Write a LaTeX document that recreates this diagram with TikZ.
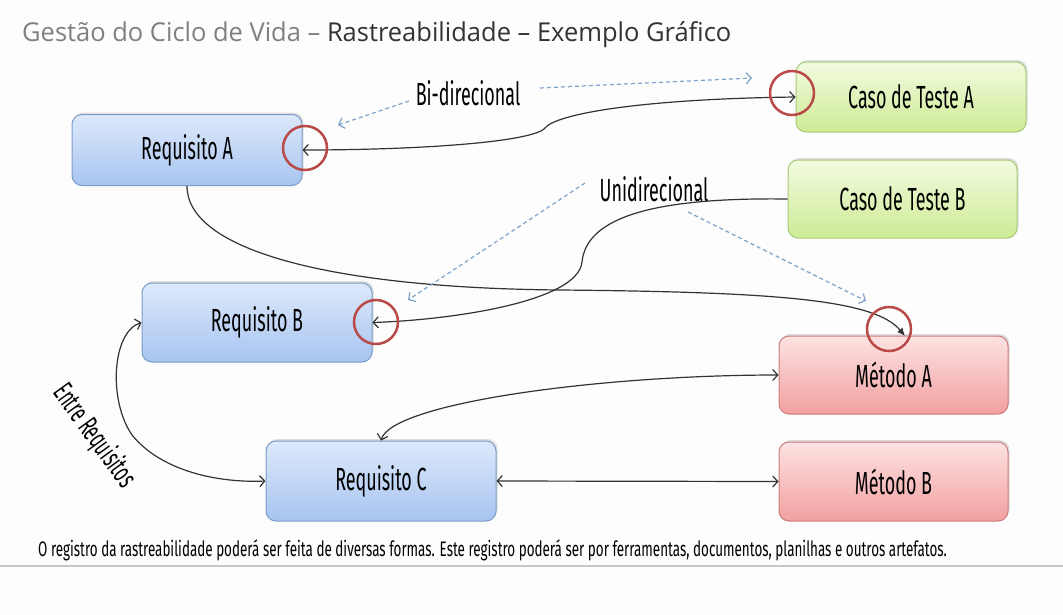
\documentclass[tikz,border=0pt]{standalone}
\usepackage{fontspec}
\usetikzlibrary{arrows.meta,shadows}
\newfontfamily\agency[FakeStretch=0.56]{Fira Sans}
\newfontfamily\footfont[FakeStretch=0.64]{Fira Sans}
\newfontfamily\titlefont[FakeStretch=0.98]{Open Sans}
\definecolor{bgc}{HTML}{FDFDFD}
\definecolor{bluetop}{HTML}{DDE9FB}
\definecolor{bluebot}{HTML}{A7C4F0}
\definecolor{blueline}{HTML}{7A9CC8}
\definecolor{greentop}{HTML}{F2FBE0}
\definecolor{greenbot}{HTML}{CDEB95}
\definecolor{greenline}{HTML}{A8C878}
\definecolor{redtop}{HTML}{FDE2E2}
\definecolor{redbot}{HTML}{F2A0A0}
\definecolor{redline}{HTML}{CC7B7B}
\definecolor{ringc}{HTML}{B94A48}
\definecolor{dashc}{HTML}{7EA3CC}
\definecolor{linec}{HTML}{333333}
\tikzset{
  box/.style={rounded corners=10pt, minimum width=230pt, line width=1pt,
    font=\agency\fontsize{32}{34}\selectfont, text=black,
    drop shadow={opacity=0.25, shadow xshift=1.5pt, shadow yshift=2pt}},
  reqbox/.style={box, draw=blueline, top color=bluetop, bottom color=bluebot, minimum height=75pt},
  testbox/.style={box, draw=greenline, top color=greentop, bottom color=greenbot, minimum height=74pt},
  metbox/.style={box, draw=redline, top color=redtop, bottom color=redbot, minimum height=79pt},
  link/.style={draw=linec, line width=1.2pt},
  barb/.tip={Straight Barb[length=5pt,width=11pt]},
  dasharrow/.style={draw=dashc, line width=1.2pt, dash pattern=on 4pt off 3pt, -{Straight Barb[length=5pt,width=11pt]}},
  ring/.style={draw=ringc, line width=2.5pt, circle, minimum size=44pt, inner sep=0pt},
  lbl/.style={font=\agency\fontsize{32}{34}\selectfont, text=black, inner sep=1pt}
}
\begin{document}
\begin{tikzpicture}[x=1pt,y=-1pt]
\fill[bgc] (0,0) rectangle (1063,614);
\useasboundingbox (0,0) rectangle (1063,614);
% title
\node[anchor=base west, inner sep=0pt, font=\titlefont\fontsize{26}{28}\selectfont] (title) at (22,41)
  {\textcolor{black!50}{Gestão do Ciclo de Vida –} \textcolor{black!80}{Rastreabilidade – Exemplo Gráfico}};
% boxes
\node[reqbox, minimum height=71pt] (ra) at (187,150) {Requisito A};
\node[testbox, minimum height=70pt] (cta) at (911,97) {Caso de Teste A};
\node[testbox, minimum width=229pt, minimum height=78pt] (ctb) at (902.5,199) {Caso de Teste B};
\node[reqbox, minimum height=79pt] (rb) at (257,322.5) {Requisito B};
\node[metbox, minimum width=229pt, minimum height=78pt] (ma) at (893.5,375) {Método A};
\node[reqbox, minimum height=80pt] (rc) at (381,481) {Requisito C};
\node[metbox, minimum width=229pt] (mb) at (893.5,481.5) {Método B};
% labels
\node[lbl] (bi) at (468,93) {Bi-direcional};
\node[lbl] (uni) at (654,189) {Unidirecional};
\node[lbl, rotate=-54, font=\agency\fontsize{29}{31}\selectfont] (entre) at (94,436) {Entre Requisitos};
% connectors
\draw[link, barb-barb] (ra.east) .. controls (420,150) and (533,142) .. (545,128)
  .. controls (556,114) and (640,99) .. (cta.west);
\draw[link, -barb] (ctb.west) .. controls (640,197) and (586,222) .. (582,262)
  .. controls (578,302) and (450,320) .. (rb.east);
\coordinate (matop) at (905,336);
\draw[link, -{Latex[length=8pt,width=7pt]}] (ra.south) .. controls (187,250) and (330,288) .. (560,290)
  .. controls (780,292) and (875,300) .. (matop);
\draw[link, barb-barb] (rb.west) .. controls (112,332) and (108,400) .. (132,435)
  .. controls (162,472) and (220,483) .. (rc.west);
\draw[link, barb-barb] (rc.north) .. controls (392,403) and (600,375) .. (ma.west);
\draw[link, barb-barb] (rc.east) -- (mb.west);
% dashed arrows
\coordinate (d1s) at (409,101);
\coordinate (d1e) at (338,125);
\coordinate (d2s) at (540,88);
\coordinate (d2e) at (752,78);
\coordinate (d3s) at (585,183);
\coordinate (d3e) at (408,300);
\coordinate (d4s) at (688,212);
\coordinate (d4e) at (866,301);
\draw[dasharrow] (d1s) -- (d1e);
\draw[dasharrow] (d2s) -- (d2e);
\draw[dasharrow] (d3s) -- (d3e);
\draw[dasharrow] (d4s) -- (d4e);
% red rings
\node[ring] (r1) at (305,148) {};
\node[ring] (r2) at (792,93) {};
\node[ring] (r3) at (376,322) {};
\node[ring] (r4) at (889,329) {};
% footer
\node[anchor=base west, inner sep=0pt, font=\footfont\fontsize{21}{23}\selectfont] (foot) at (38,556)
  {O registro da rastreabilidade poderá ser feita de diversas formas. Este registro poderá ser por ferramentas, documentos, planilhas e outros artefatos.};
\draw[black!22, line width=1.5pt] (0,566) -- (1063,566);
\end{tikzpicture}
\end{document}
